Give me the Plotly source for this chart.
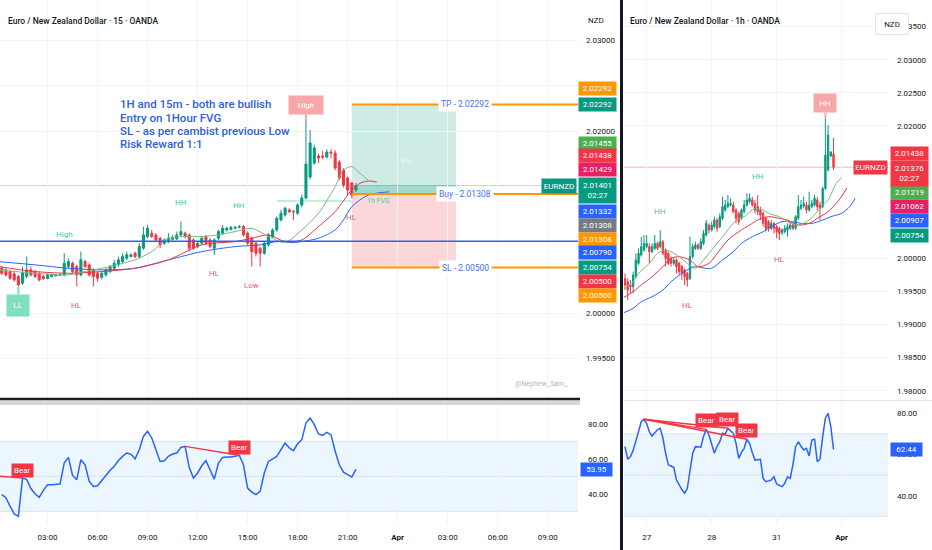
import plotly.graph_objects as go

# ---------------- EUR/NZD 15 min (left chart) ----------------
l_open = [2.00492, 2.00474, 2.00456, 2.00430, 2.00401, 2.00328, 2.00401, 2.00474, 2.00456, 2.00430,
          2.00401, 2.00379, 2.00401, 2.00408, 2.00415, 2.00419, 2.00511, 2.00547, 2.00511, 2.00419,
          2.00566, 2.00529, 2.00474, 2.00437, 2.00393, 2.00419, 2.00456, 2.00492, 2.00529, 2.00566,
          2.00602, 2.00620, 2.00657, 2.00620, 2.00712, 2.00840, 2.00877, 2.00858, 2.00822, 2.00767,
          2.00785, 2.00811, 2.00814, 2.00858, 2.00877, 2.00858, 2.00803, 2.00730, 2.00767, 2.00840,
          2.00803, 2.00712, 2.00822, 2.00877, 2.00913, 2.00920, 2.00931, 2.00942, 2.00950, 2.00877,
          2.00822, 2.00767, 2.00712, 2.00657, 2.00749, 2.00840, 2.00913, 2.01023, 2.01078, 2.01133,
          2.01114, 2.01096, 2.01188, 2.01264, 2.01495, 2.01648, 2.01725, 2.01725, 2.01714, 2.01769,
          2.01758, 2.01659, 2.01571, 2.01484, 2.01429, 2.01352]
l_high = [2.00518, 2.00492, 2.00474, 2.00456, 2.00419, 2.00511, 2.00620, 2.00511, 2.00474, 2.00456,
          2.00419, 2.00437, 2.00437, 2.00430, 2.00437, 2.00657, 2.00602, 2.00566, 2.00529, 2.00675,
          2.00584, 2.00547, 2.00492, 2.00456, 2.00456, 2.00492, 2.00529, 2.00584, 2.00620, 2.00657,
          2.00675, 2.00657, 2.00675, 2.00767, 2.00950, 2.00968, 2.00913, 2.00877, 2.00840, 2.00822,
          2.00877, 2.00858, 2.00895, 2.01005, 2.00895, 2.00877, 2.00822, 2.00785, 2.00840, 2.00858,
          2.00822, 2.00822, 2.00913, 2.00968, 2.00950, 2.00957, 2.00957, 2.00968, 2.00968, 2.00895,
          2.00840, 2.00785, 2.00730, 2.00785, 2.00877, 2.00931, 2.01060, 2.01133, 2.01169, 2.01151,
          2.01133, 2.01206, 2.01300, 2.02121, 2.02011, 2.01850, 2.01750, 2.01780, 2.01800, 2.01800,
          2.01790, 2.01680, 2.01590, 2.01500, 2.01440, 2.01430]
l_low = [2.00419, 2.00401, 2.00364, 2.00346, 2.00291, 2.00309, 2.00382, 2.00401, 2.00382, 2.00346,
         2.00364, 2.00371, 2.00393, 2.00401, 2.00408, 2.00401, 2.00492, 2.00437, 2.00291, 2.00401,
         2.00492, 2.00401, 2.00291, 2.00346, 2.00371, 2.00401, 2.00437, 2.00474, 2.00511, 2.00547,
         2.00584, 2.00613, 2.00602, 2.00602, 2.00694, 2.00822, 2.00822, 2.00785, 2.00712, 2.00749,
         2.00767, 2.00796, 2.00803, 2.00840, 2.00822, 2.00675, 2.00694, 2.00712, 2.00749, 2.00749,
         2.00712, 2.00639, 2.00803, 2.00858, 2.00895, 2.00906, 2.00920, 2.00931, 2.00840, 2.00749,
         2.00511, 2.00620, 2.00511, 2.00639, 2.00730, 2.00822, 2.00895, 2.01005, 2.01060, 2.01096,
         2.01023, 2.01078, 2.01160, 2.01250, 2.01470, 2.01630, 2.01648, 2.01690, 2.01700, 2.01700,
         2.01570, 2.01460, 2.01380, 2.01300, 2.01260, 2.01330]
l_close = [2.00437, 2.00419, 2.00382, 2.00364, 2.00309, 2.00445, 2.00474, 2.00419, 2.00401, 2.00364,
           2.00379, 2.00419, 2.00419, 2.00415, 2.00419, 2.00547, 2.00566, 2.00456, 2.00419, 2.00584,
           2.00511, 2.00419, 2.00401, 2.00382, 2.00437, 2.00474, 2.00511, 2.00547, 2.00584, 2.00620,
           2.00639, 2.00639, 2.00620, 2.00730, 2.00858, 2.00931, 2.00840, 2.00803, 2.00749, 2.00803,
           2.00822, 2.00822, 2.00858, 2.00895, 2.00840, 2.00712, 2.00712, 2.00767, 2.00822, 2.00767,
           2.00730, 2.00803, 2.00895, 2.00931, 2.00931, 2.00942, 2.00942, 2.00950, 2.00858, 2.00767,
           2.00675, 2.00657, 2.00657, 2.00767, 2.00858, 2.00913, 2.01041, 2.01096, 2.01151, 2.01114,
           2.01111, 2.01188, 2.01264, 2.01637, 2.01868, 2.01813, 2.01703, 2.01714, 2.01769, 2.01758,
           2.01593, 2.01484, 2.01407, 2.01352, 2.01297, 2.01401]
l_bar = list(range(len(l_close)))

l_time_bar = [11, 23, 35, 47, 59, 71, 83, 95, 107, 119, 131]
l_time_text = ['03:00', '06:00', '09:00', '12:00', '15:00', '18:00', '21:00', '<b>Apr</b>',
               '03:00', '06:00', '09:00']

# alligator lines (drawn forward-shifted)
l_lips_bar = [-1, 8, 16, 20, 24, 32, 36, 40, 44, 48, 52, 56, 60, 64, 68, 72, 76, 80, 82, 84, 86, 88]
l_lips = [2.00474, 2.00437, 2.00419, 2.00456, 2.00492, 2.00584, 2.00675, 2.00822, 2.00840, 2.00840,
          2.00858, 2.00895, 2.00931, 2.00840, 2.00775, 2.00913, 2.01096, 2.01388, 2.01572, 2.01609,
          2.01535, 2.01455]
l_teeth_bar = [-1, 8, 16, 24, 32, 40, 48, 56, 60, 64, 68, 72, 76, 80, 84, 86, 88, 90]
l_teeth = [2.00511, 2.00456, 2.00437, 2.00456, 2.00492, 2.00584, 2.00749, 2.00785, 2.00822, 2.00858,
           2.00785, 2.00803, 2.00950, 2.01114, 2.01352, 2.01426, 2.01451, 2.01438]
l_jaw_bar = [-1, 8, 16, 24, 32, 40, 48, 56, 62, 66, 70, 76, 80, 82, 84, 88, 93]
l_jaw = [2.00566, 2.00529, 2.00492, 2.00474, 2.00492, 2.00584, 2.00675, 2.00730, 2.00749, 2.00785,
         2.00775, 2.00822, 2.00913, 2.01023, 2.01169, 2.01297, 2.01332]

l_rsi = [39.5, 37.8, 33.0, 28.5, 27.1, 49.0, 48.1, 43.0, 40.0, 38.0,
         42.0, 45.2, 45.2, 45.4, 45.6, 57.6, 60.8, 50.5, 48.1, 59.5,
         56.6, 47.1, 44.2, 44.6, 47.5, 50.9, 53.5, 55.7, 59.0, 61.4,
         63.3, 62.7, 60.0, 65.2, 72.8, 75.7, 71.9, 65.2, 58.5, 58.9,
         61.4, 62.7, 63.3, 66.5, 67.1, 55.0, 49.0, 51.9, 56.0, 58.9,
         53.8, 48.4, 57.6, 60.8, 61.0, 61.0, 61.5, 62.0, 56.6, 43.3,
         41.0, 39.5, 41.4, 51.9, 58.5, 60.0, 61.4, 65.2, 69.0, 66.2,
         64.6, 68.6, 70.9, 80.4, 83.3, 79.5, 74.2, 73.4, 75.1, 73.8,
         64.3, 56.6, 52.4, 51.0, 49.6, 53.95]
l_div_bar = [[-3, 5], [44, 57]]
l_div_rsi = [[50.5, 49.0], [67.1, 62.0]]

l_pivot_text = ['High', 'HL', 'HH', 'HL', 'HH', 'Low', 'HL']
l_pivot_bar = [15, 18, 43, 51, 57, 60, 84]
l_pivot_side = ['high', 'low', 'high', 'low', 'high', 'low', 'low']
l_pin_text = ['LL', 'High']
l_pin_bar = [4, 73]
l_pin_side = ['low', 'high']

entry, take_profit, stop_loss = 2.01308, 2.02292, 2.00500
pos_bars = [84, 109]
fvg_top = 2.01405
fvg_line = 2.01231
fvg_line_bars = [66, 84]
struct_high = 2.00790
l_last = 2.01401
l_tag_values = [2.02292, 2.02292, 2.01455, 2.01438, 2.01429, 2.01332, 2.01308, 2.01308,
                2.00790, 2.00754, 2.00500, 2.00500]
note_lines = ['1H and 15m - both are bullish', 'Entry on 1Hour FVG',
              'SL - as per cambist previous Low', 'Risk Reward 1:1']

# ---------------- EUR/NZD 1 h (right chart) ----------------
r_open = [1.99697, 1.99647, 1.99597, 1.99571, 1.99722, 1.99924, 2.00050, 2.00125, 2.00176, 2.00176,
          2.00100, 2.00150, 2.00226, 2.00176, 2.00251, 2.00125, 2.00075, 1.99999, 1.99924, 1.99974,
          1.99924, 1.99874, 1.99823, 1.99773, 1.99697, 2.00025, 2.00150, 2.00201, 2.00150, 2.00226,
          2.00352, 2.00503, 2.00427, 2.00478, 2.00578, 2.00478, 2.00604, 2.00730, 2.00780, 2.00805,
          2.00805, 2.00730, 2.00679, 2.00604, 2.00704, 2.00805, 2.00855, 2.00881, 2.00830, 2.00780,
          2.00730, 2.00679, 2.00604, 2.00553, 2.00453, 2.00528, 2.00478, 2.00453, 2.00387, 2.00402,
          2.00427, 2.00453, 2.00503, 2.00453, 2.00604, 2.00755, 2.00790, 2.00805, 2.00730, 2.00780,
          2.00805, 2.00881, 2.00805, 2.00780, 2.01057, 2.01334, 2.01545, 2.01576]
r_high = [1.99773, 1.99697, 1.99672, 1.99798, 2.00075, 2.00150, 2.00326, 2.00352, 2.00352, 2.00226,
          2.00226, 2.00352, 2.00251, 2.00427, 2.00276, 2.00150, 2.00100, 2.00025, 1.99999, 1.99999,
          1.99949, 1.99899, 1.99848, 1.99798, 2.00326, 2.00226, 2.00251, 2.00226, 2.00301, 2.00427,
          2.00578, 2.00528, 2.00553, 2.00629, 2.00604, 2.00679, 2.00931, 2.00881, 2.00956, 2.00906,
          2.00855, 2.00755, 2.00704, 2.00755, 2.00881, 2.00981, 2.00981, 2.00931, 2.00881, 2.00956,
          2.00780, 2.00704, 2.00629, 2.00578, 2.00578, 2.00553, 2.00503, 2.00478, 2.00453, 2.00503,
          2.00528, 2.00553, 2.00528, 2.00654, 2.00956, 2.00881, 2.00931, 2.00855, 2.01006, 2.00881,
          2.00956, 2.00931, 2.00855, 2.01082, 2.02115, 2.02014, 2.01620, 2.01817]
r_low = [1.99521, 1.99370, 1.99471, 1.99471, 1.99697, 1.99899, 2.00025, 2.00100, 2.00150, 1.99924,
         2.00075, 2.00125, 2.00125, 2.00150, 2.00050, 1.99874, 1.99899, 1.99874, 1.99899, 1.99773,
         1.99748, 1.99672, 1.99597, 1.99571, 1.99672, 1.99999, 2.00125, 2.00125, 2.00125, 2.00201,
         2.00326, 2.00377, 2.00402, 2.00453, 2.00402, 2.00453, 2.00578, 2.00704, 2.00755, 2.00780,
         2.00679, 2.00528, 2.00503, 2.00578, 2.00679, 2.00780, 2.00830, 2.00780, 2.00679, 2.00654,
         2.00578, 2.00478, 2.00402, 2.00402, 2.00427, 2.00377, 2.00301, 2.00276, 2.00352, 2.00377,
         2.00326, 2.00427, 2.00427, 2.00427, 2.00578, 2.00730, 2.00755, 2.00679, 2.00704, 2.00755,
         2.00780, 2.00730, 2.00578, 2.00755, 2.01032, 2.01310, 2.01530, 2.01334]
r_close = [1.99597, 1.99521, 1.99571, 1.99748, 1.99974, 2.00075, 2.00176, 2.00226, 2.00226, 2.00100,
           2.00176, 2.00226, 2.00150, 2.00251, 2.00075, 1.99999, 1.99924, 1.99924, 1.99974, 1.99874,
           1.99798, 1.99773, 1.99722, 1.99672, 2.00025, 2.00176, 2.00201, 2.00150, 2.00251, 2.00377,
           2.00528, 2.00427, 2.00503, 2.00578, 2.00453, 2.00629, 2.00780, 2.00805, 2.00830, 2.00830,
           2.00704, 2.00604, 2.00553, 2.00730, 2.00805, 2.00881, 2.00906, 2.00805, 2.00730, 2.00704,
           2.00654, 2.00528, 2.00453, 2.00453, 2.00528, 2.00453, 2.00402, 2.00377, 2.00427, 2.00453,
           2.00478, 2.00503, 2.00453, 2.00629, 2.00780, 2.00805, 2.00830, 2.00730, 2.00805, 2.00830,
           2.00906, 2.00780, 2.00755, 2.01057, 2.01561, 2.01862, 2.01606, 2.01376]
r_bar = list(range(len(r_close)))

r_time_bar = [8, 32, 56, 80]
r_time_text = ['27', '28', '31', '<b>Apr</b>']

r_lips_bar = [-1, 3, 5, 9, 12, 15, 17, 20, 23, 26, 28, 32, 36, 40, 42, 44, 48, 51, 53, 57,
              60, 64, 68, 72, 75, 78, 80]
r_lips = [1.99521, 1.99647, 1.99773, 1.99924, 2.00075, 2.00125, 2.00100, 2.00025, 1.99924, 1.99848,
          1.99924, 2.00125, 2.00326, 2.00528, 2.00604, 2.00629, 2.00755, 2.00730, 2.00679, 2.00629,
          2.00553, 2.00503, 2.00578, 2.00755, 2.00881, 2.01132, 2.01219]
r_teeth_bar = [-1, 3, 6, 10, 14, 17, 20, 24, 27, 31, 35, 38, 42, 46, 49, 53, 57, 60, 64, 68,
               72, 75, 79, 82]
r_teeth = [1.99395, 1.99496, 1.99597, 1.99722, 1.99874, 1.99999, 2.00025, 1.99974, 1.99874, 1.99924,
           2.00125, 2.00276, 2.00402, 2.00503, 2.00578, 2.00629, 2.00604, 2.00578, 2.00503, 2.00528,
           2.00629, 2.00704, 2.00881, 2.01062]
r_jaw_bar = [-1, 3, 6, 10, 14, 17, 21, 24, 26, 30, 32, 36, 40, 43, 47, 51, 54, 58, 62, 65,
             69, 73, 76, 80, 83, 85]
r_jaw = [1.99169, 1.99244, 1.99345, 1.99420, 1.99521, 1.99647, 1.99773, 1.99848, 1.99874, 1.99848,
         1.99848, 1.99974, 2.00100, 2.00226, 2.00326, 2.00402, 2.00478, 2.00553, 2.00553, 2.00528,
         2.00528, 2.00578, 2.00629, 2.00679, 2.00780, 2.00907]

r_rsi = [63.8, 57.7, 59.0, 62.0, 66.5, 71.9, 75.9, 77.1, 75.0, 71.0,
         69.0, 70.6, 72.0, 72.7, 68.0, 60.6, 55.0, 54.4, 53.8, 47.6,
         45.2, 43.0, 41.2, 43.5, 52.0, 60.6, 63.8, 63.6, 63.5, 68.7,
         72.2, 69.5, 65.0, 60.6, 64.0, 66.2, 70.3, 69.9, 72.7, 71.5,
         70.3, 65.4, 58.1, 61.0, 63.0, 67.4, 65.4, 61.0, 57.3, 57.5,
         57.7, 48.4, 46.8, 47.2, 47.6, 49.2, 45.7, 45.0, 44.4, 46.0,
         49.2, 48.4, 55.0, 63.8, 66.2, 64.0, 62.2, 63.0, 59.3, 67.0,
         67.4, 56.5, 57.7, 68.7, 77.6, 80.0, 73.5, 62.44]
r_div_bar = [[7, 30], [7, 38], [7, 45]]
r_div_rsi = [[77.1, 72.2], [77.1, 72.7], [77.1, 67.4]]

r_pivot_text = ['HH', 'HL', 'HH', 'HL']
r_pivot_bar = [13, 23, 49, 57]
r_pivot_side = ['high', 'low', 'high', 'low']
r_pin_text = ['HH']
r_pin_bar = [74]
r_pin_side = ['high']

r_last = 2.01376
r_tag_values = [2.01438, 2.01219, 2.01062, 2.00907, 2.00754]

# ---------------- styling ----------------
W, H = 932, 550
FONT = 'Roboto, Liberation Sans, sans-serif'
GREEN, RED, BLUE, ORANGE = '#089981', '#f23645', '#2962ff', '#ff9800'
TXT = '#131722'
GRID = '#f3f4f7'
MINT, PINK = '#7fe0bb', '#f7a7a7'
L_RANGE = [-0.41, 138.27]
R_RANGE = [-0.37, 97.12]


def px_x(p):
    return p / W


def px_y(p):
    return 1 - p / H


fig = go.Figure()

cs_style = dict(increasing=dict(line=dict(color=GREEN, width=1), fillcolor=GREEN),
                decreasing=dict(line=dict(color=RED, width=1), fillcolor=RED),
                whiskerwidth=0, showlegend=False, hoverinfo='skip')

fig.add_trace(go.Candlestick(x=l_bar, open=l_open, high=l_high, low=l_low, close=l_close,
                             xaxis='x', yaxis='y', **cs_style))
fig.add_trace(go.Candlestick(x=r_bar, open=r_open, high=r_high, low=r_low, close=r_close,
                             xaxis='x3', yaxis='y3', **cs_style))

ma_sets = [
    (l_jaw_bar, l_jaw, '#2962ff', 'x', 'y'), (l_teeth_bar, l_teeth, '#e8344e', 'x', 'y'),
    (l_lips_bar, l_lips, '#7cb87a', 'x', 'y'),
    (r_jaw_bar, r_jaw, '#2962ff', 'x3', 'y3'), (r_teeth_bar, r_teeth, '#e8344e', 'x3', 'y3'),
    (r_lips_bar, r_lips, '#7cb87a', 'x3', 'y3'),
]
for xs, ys, col, xa, ya in ma_sets:
    fig.add_trace(go.Scatter(x=xs, y=ys, mode='lines', xaxis=xa, yaxis=ya, showlegend=False,
                             hoverinfo='skip',
                             line=dict(color=col, width=1, shape='spline', smoothing=0.8)))

# RSI panes
fig.add_trace(go.Scatter(x=l_bar, y=l_rsi, mode='lines', xaxis='x2', yaxis='y2', showlegend=False,
                         line=dict(color=BLUE, width=1.5)))
fig.add_trace(go.Scatter(x=r_bar, y=r_rsi, mode='lines', xaxis='x4', yaxis='y4', showlegend=False,
                         line=dict(color=BLUE, width=1.5)))
for bars, vals in zip(l_div_bar, l_div_rsi):
    fig.add_trace(go.Scatter(x=bars, y=vals, mode='lines', xaxis='x2', yaxis='y2',
                             showlegend=False, line=dict(color=RED, width=1.5)))
for bars, vals in zip(r_div_bar, r_div_rsi):
    fig.add_trace(go.Scatter(x=bars, y=vals, mode='lines', xaxis='x4', yaxis='y4',
                             showlegend=False, line=dict(color=RED, width=1.5)))

shapes = []
# position tool
shapes.append(dict(type='rect', xref='x', yref='y', x0=pos_bars[0], x1=pos_bars[1], y0=entry,
                   y1=take_profit, fillcolor='rgba(8,153,129,0.2)', line_width=0, layer='below'))
shapes.append(dict(type='rect', xref='x', yref='y', x0=pos_bars[0], x1=pos_bars[1], y0=stop_loss,
                   y1=entry, fillcolor='rgba(242,54,69,0.2)', line_width=0, layer='below'))
shapes.append(dict(type='rect', xref='x', yref='y', x0=pos_bars[0], x1=pos_bars[1], y0=entry,
                   y1=fvg_top, fillcolor='rgba(8,153,129,0.22)', line_width=0, layer='below'))
for lvl in (take_profit, entry, stop_loss):
    shapes.append(dict(type='line', xref='x', yref='y', x0=pos_bars[0], x1=L_RANGE[1], y0=lvl, y1=lvl,
                       line=dict(color=ORANGE, width=2)))
shapes.append(dict(type='line', xref='x domain', yref='y', x0=0, x1=1, y0=struct_high, y1=struct_high,
                   line=dict(color=BLUE, width=1.5)))
shapes.append(dict(type='line', xref='x domain', yref='y', x0=0, x1=1, y0=l_last, y1=l_last,
                   line=dict(color='#c5d9d4', width=1), layer='below'))
shapes.append(dict(type='line', xref='x', yref='y', x0=fvg_line_bars[0], x1=fvg_line_bars[1],
                   y0=fvg_line, y1=fvg_line, line=dict(color='#bfeedb', width=2), layer='below'))
shapes.append(dict(type='line', xref='x3 domain', yref='y3', x0=0, x1=1, y0=r_last, y1=r_last,
                   line=dict(color='#f8b4ba', width=1), layer='below'))
# RSI bands
for xd, ya in (('x2 domain', 'y2'), ('x4 domain', 'y4')):
    shapes.append(dict(type='rect', xref=xd, yref=ya, x0=0, x1=1, y0=30, y1=70,
                       fillcolor='rgba(33,150,243,0.09)', line_width=0, layer='below'))
    for lvl in (70, 50, 30):
        shapes.append(dict(type='line', xref=xd, yref=ya, x0=0, x1=1, y0=lvl, y1=lvl,
                           line=dict(color='#dde3ee', width=1), layer='below'))
# pane separators
shapes.append(dict(type='rect', xref='paper', yref='paper', x0=0, x1=px_x(580), y0=px_y(405),
                   y1=px_y(400.5), fillcolor='#d6d7db', line_width=0))
shapes.append(dict(type='line', xref='paper', yref='paper', x0=0, x1=px_x(580), y0=px_y(399),
                   y1=px_y(399), line=dict(color='#1c1c1c', width=2.5)))
shapes.append(dict(type='line', xref='paper', yref='paper', x0=px_x(624), x1=1, y0=px_y(400.5),
                   y1=px_y(400.5), line=dict(color='#e0e3eb', width=1)))
shapes.append(dict(type='line', xref='paper', yref='paper', x0=px_x(621.5), x1=px_x(621.5),
                   y0=0, y1=1, line=dict(color=TXT, width=3)))

ann = []


def text(t, x, y, xref='paper', yref='paper', size=8, color=TXT, **kw):
    d = dict(text=t, x=x, y=y, xref=xref, yref=yref, showarrow=False,
             font=dict(size=size, color=color, family=FONT))
    d.update(kw)
    return d


ann.append(text('Euro / New Zealand Dollar · 15 · OANDA', px_x(6), px_y(14), xanchor='left',
                font=dict(size=8.5, color=TXT, family=FONT, weight=500)))
ann.append(text('Euro / New Zealand Dollar · 1h · OANDA', px_x(628), px_y(14), xanchor='left',
                font=dict(size=8.5, color=TXT, family=FONT, weight=500)))
ann.append(text('NZD', px_x(596), px_y(14)))
ann.append(text('NZD', px_x(909), px_y(13.5), bgcolor='white', bordercolor='#e0e3eb', borderwidth=1,
                width=30, height=18))
ann.append(text('@Nephew_Sam_', px_x(541), px_y(390), size=7, color='#b2b5be'))

for i, line in enumerate(note_lines):
    ann.append(text(line, 28, take_profit, xref='x', yref='y', xanchor='left', yshift=-13.3 * i,
                    font=dict(size=11.5, color='#2f5fdc', family=FONT, weight=500)))

ann.append(text('FVG', (pos_bars[0] + pos_bars[1]) / 2, 2.0168, xref='x', yref='y', color='#eef8f5'))
ann.append(text('1h FVG', 90.5, fvg_line, xref='x', yref='y', size=7, color='#3fcf9a'))
for lbl, lvl in (('TP', take_profit), ('Buy', entry), ('SL', stop_loss)):
    ann.append(text(f'{lbl} - {lvl:.5f}', 111.2, lvl, xref='x', yref='y', size=8.5, color='#4a6fe3',
                    bgcolor='white', borderpad=2))


def pivot_labels(texts, bars, sides, highs, lows, xref, yref):
    for t, b, s in zip(texts, bars, sides):
        up = s == 'high'
        ann.append(text(t, b, highs[b] if up else lows[b], xref=xref, yref=yref,
                        color='#34cf97' if up else '#f05a6a', yshift=19 if up else -19))


def pin_labels(texts, bars, sides, highs, lows, xref, yref):
    for t, b, s in zip(texts, bars, sides):
        up = s == 'high'
        col = PINK if up else MINT
        ann.append(dict(text=t, x=b, y=highs[b] if up else lows[b], xref=xref, yref=yref,
                        showarrow=True, ax=0, ay=-15 if up else 19, arrowhead=0, arrowwidth=2,
                        arrowcolor=col, bgcolor=col, borderpad=2, standoff=0,
                        height=14 if up else 17, width=len(t) * 6 + 6,
                        font=dict(size=8, color='white', family=FONT)))


pivot_labels(l_pivot_text, l_pivot_bar, l_pivot_side, l_high, l_low, 'x', 'y')
pin_labels(l_pin_text, l_pin_bar, l_pin_side, l_high, l_low, 'x', 'y')
pivot_labels(r_pivot_text, r_pivot_bar, r_pivot_side, r_high, r_low, 'x3', 'y3')
pin_labels(r_pin_text, r_pin_bar, r_pin_side, r_high, r_low, 'x3', 'y3')

# Bear divergence labels
for bars, vals in zip(l_div_bar, l_div_rsi):
    ann.append(text('Bear', bars[1], vals[1], xref='x2', yref='y2', color='white', bgcolor=RED,
                    borderpad=2, yshift=8))
for bars, vals in zip(r_div_bar, r_div_rsi):
    ann.append(text('Bear', bars[1], vals[1], xref='x4', yref='y4', color='white', bgcolor=RED,
                    borderpad=2, yshift=9))

# price tags on the scales
l_tag_colors = [ORANGE, GREEN, '#4caf50', RED, '#e91e63', BLUE, '#787b86', ORANGE,
                BLUE, GREEN, RED, ORANGE]
l_tag_shift = [16.4, 0, 37.6, 26.2, 13.1, -19.2, -31, -45, -10.9, -22.6, -13.5, -27.5]
for v, c, s in zip(l_tag_values, l_tag_colors, l_tag_shift):
    ann.append(text(f'{v:.5f}', px_x(578), v, yref='y', color='white', bgcolor=c, xanchor='left',
                    width=35, height=11, borderpad=1, yshift=s))
ann.append(text(f'{l_last:.5f}<br>02:27', px_x(578), l_last, yref='y', color='white', bgcolor=GREEN,
                xanchor='left', width=35, height=23, borderpad=1, yshift=-5))
ann.append(text('EURNZD', px_x(577), l_last, yref='y', color='white', bgcolor=GREEN,
                xanchor='right', width=32, height=12, borderpad=1))

r_tag_colors = [RED, '#4caf50', '#e91e63', BLUE, GREEN]
r_tag_shift = [10, -15.3, -18.6, -22.3, -26.6]
for v, c, s in zip(r_tag_values, r_tag_colors, r_tag_shift):
    ann.append(text(f'{v:.5f}', px_x(890), v, yref='y3', color='white', bgcolor=c, xanchor='left',
                    width=35, height=11, borderpad=1, yshift=s))
ann.append(text(f'{r_last:.5f}<br>02:27', px_x(890), r_last, yref='y3', color='white', bgcolor=RED,
                xanchor='left', width=35, height=23, borderpad=1, yshift=-6))
ann.append(text('EURNZD', px_x(888), r_last, yref='y3', color='white', bgcolor=RED,
                xanchor='right', width=31, height=11, borderpad=1))

ann.append(text(f'{l_rsi[-1]:.2f}', px_x(580), l_rsi[-1], yref='y2', color='white', bgcolor=BLUE,
                xanchor='left', width=29, height=11, borderpad=1))
ann.append(text(f'{r_rsi[-1]:.2f}', px_x(890), r_rsi[-1], yref='y4', color='white', bgcolor=BLUE,
                xanchor='left', width=29, height=11, borderpad=1))

l_price_ticks = [2.03, 2.025, 2.02, 2.0, 1.995]
r_price_ticks = [2.035, 2.03, 2.025, 2.02, 2.0, 1.995, 1.99, 1.985, 1.98]
rsi_ticks = [80, 60, 40]

tick_font = dict(size=8, color=TXT, family=FONT)
base_x = dict(showline=False, zeroline=False, ticks='', gridcolor=GRID, showgrid=True, fixedrange=True)
base_y = dict(showline=False, zeroline=False, ticks='', side='right', gridcolor=GRID, showgrid=True,
              tickfont=tick_font, fixedrange=True)

fig.update_layout(
    width=W, height=H, margin=dict(l=0, r=0, t=0, b=0),
    paper_bgcolor='white', plot_bgcolor='white', showlegend=False,
    font=dict(family=FONT, color=TXT),
    xaxis=dict(base_x, domain=[0, px_x(578)], range=L_RANGE, anchor='y', tickvals=l_time_bar,
               showticklabels=False, rangeslider=dict(visible=False)),
    yaxis=dict(base_y, domain=[px_y(398), 1], range=[1.99066, 2.03440], anchor='x',
               tickvals=l_price_ticks, ticktext=[f'{v:.5f}' for v in l_price_ticks],
               ticklabelstandoff=7),
    xaxis2=dict(base_x, domain=[0, px_x(578)], range=L_RANGE, anchor='y2', tickvals=l_time_bar,
                ticktext=l_time_text, tickfont=tick_font, ticklabelstandoff=6),
    yaxis2=dict(base_y, domain=[px_y(525), px_y(405)], range=[22.17, 90.74], anchor='x2',
                tickvals=rsi_ticks, ticktext=[f'{v:.2f}' for v in rsi_ticks], ticklabelstandoff=9,
                showgrid=False),
    xaxis3=dict(base_x, domain=[px_x(624), px_x(888)], range=R_RANGE, anchor='y3', tickvals=r_time_bar,
                showticklabels=False, rangeslider=dict(visible=False)),
    yaxis3=dict(base_y, domain=[px_y(400), 1], range=[1.97860, 2.03902], anchor='x3',
                tickvals=r_price_ticks, ticktext=[f'{v:.5f}' for v in r_price_ticks],
                ticklabelstandoff=8),
    xaxis4=dict(base_x, domain=[px_x(624), px_x(888)], range=R_RANGE, anchor='y4', tickvals=r_time_bar,
                ticktext=r_time_text, tickfont=tick_font, ticklabelstandoff=6),
    yaxis4=dict(base_y, domain=[px_y(525), px_y(402)], range=[25.78, 85.49], anchor='x4',
                tickvals=rsi_ticks, ticktext=[f'{v:.2f}' for v in rsi_ticks], ticklabelstandoff=8,
                showgrid=False),
    shapes=shapes, annotations=ann,
)

# the page's default body margin would push the chart out of the window
fig.write_html('out.html', config={'displayModeBar': False},
               post_script="document.body.style.margin='0';")
